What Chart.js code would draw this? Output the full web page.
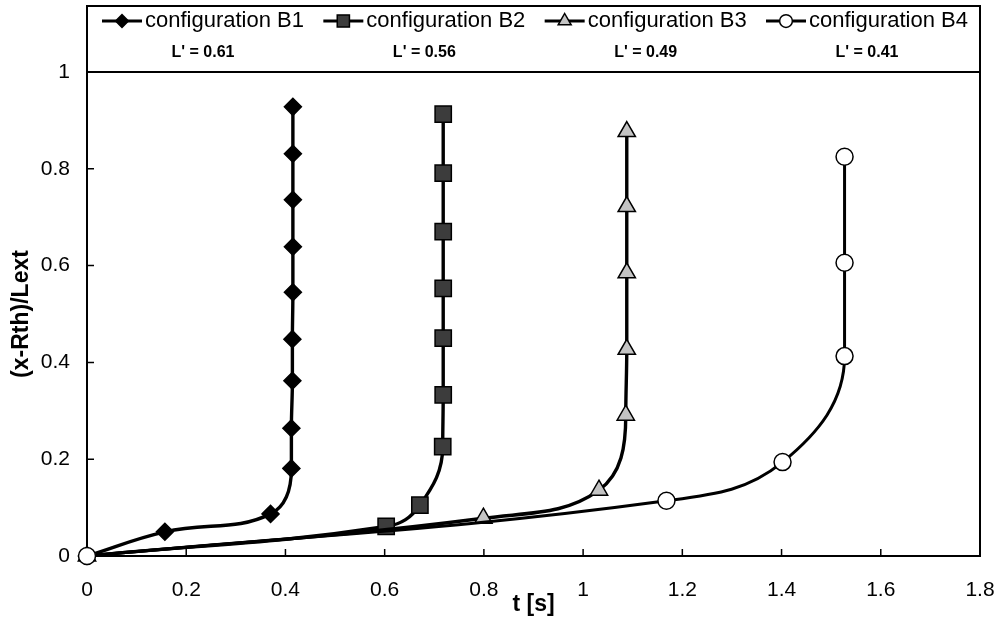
<!DOCTYPE html>
<html>
<head>
<meta charset="utf-8">
<script src="https://cdn.jsdelivr.net/npm/chart.js@4.4.1/dist/chart.umd.min.js"></script>
<style>
  html, body { margin: 0; padding: 0; background: #ffffff; }
  #wrap { width: 995px; height: 618px; }
</style>
</head>
<body>
<div id="wrap"><canvas id="c" width="995" height="618"></canvas></div>
<script>
// ---- data ----
const seriesLabels = ['configuration B1', 'configuration B2', 'configuration B3', 'configuration B4'];
const lPrime = [0.61, 0.56, 0.49, 0.41];

const tB1 = [0, 0.157, 0.370, 0.412, 0.412, 0.414, 0.414, 0.415, 0.415, 0.415, 0.415, 0.415];
const yB1 = [0, 0.050, 0.087, 0.181, 0.264, 0.362, 0.448, 0.545, 0.639, 0.736, 0.831, 0.928];

const tB2 = [0, 0.603, 0.671, 0.717, 0.718, 0.718, 0.718, 0.718, 0.718, 0.718];
const yB2 = [0, 0.061, 0.105, 0.226, 0.333, 0.450, 0.553, 0.670, 0.791, 0.913];

const tB3 = [0, 0.799, 1.032, 1.086, 1.088, 1.088, 1.088, 1.088];
const yB3 = [0, 0.078, 0.136, 0.291, 0.427, 0.585, 0.722, 0.877];

const tB4 = [0, 1.168, 1.402, 1.527, 1.527, 1.527];
const yB4 = [0, 0.114, 0.194, 0.413, 0.606, 0.825];

const xTickValues = [0, 0.2, 0.4, 0.6, 0.8, 1, 1.2, 1.4, 1.6, 1.8];
const xTickLabels = ['0', '0.2', '0.4', '0.6', '0.8', '1', '1.2', '1.4', '1.6', '1.8'];
const yTickValues = [0, 0.2, 0.4, 0.6, 0.8, 1];
const yTickLabels = ['0', '0.2', '0.4', '0.6', '0.8', '1'];

const xTitle = 't [s]';
const yTitle = '(x-Rth)/Lext';

// ---- build ----
const pts = (t, y) => t.map((v, i) => ({ x: v, y: y[i] }));
const FONT = '"Liberation Sans", Arial, Helvetica, sans-serif';

const styles = [
  { pointStyle: 'rectRot',  radius: 8.5,  bg: '#000000', lw: 3.4, hideFirst: false },
  { pointStyle: 'rect',     radius: 11.5, bg: '#3c3c3c', lw: 3.4, hideFirst: true },
  { pointStyle: 'triangle', radius: 10,   bg: '#c4c4c4', lw: 3.4, hideFirst: false },
  { pointStyle: 'circle',   radius: 8.5,  bg: '#ffffff', lw: 3,   hideFirst: false }
];
const seriesData = [pts(tB1, yB1), pts(tB2, yB2), pts(tB3, yB3), pts(tB4, yB4)];

const datasets = seriesData.map((d, i) => ({
  label: seriesLabels[i],
  data: d,
  showLine: true,
  borderColor: '#000000',
  borderWidth: styles[i].lw,
  tension: 0.4,
  pointStyle: styles[i].pointStyle,
  legendRadius: styles[i].radius,
  pointRadius: c => (styles[i].hideFirst && c.dataIndex === 0) ? 0 : styles[i].radius,
  pointHoverRadius: styles[i].radius,
  pointBackgroundColor: styles[i].bg,
  pointBorderColor: '#000000',
  pointBorderWidth: 1.5,
  order: seriesData.length - i,
  clip: false
}));

// make runs of (almost) equal t straight and vertical, like the spreadsheet's smoothing
const verticalRuns = {
  id: 'verticalRuns',
  beforeDatasetDraw(chart, args) {
    const meta = args.meta;
    if (!meta.dataset) return;
    meta.dataset.updateControlPoints(chart.chartArea, meta.iScale ? meta.iScale.axis : 'x');
    const p = meta.data;
    for (let i = 0; i < p.length; i++) {
      const nxt = p[i + 1], prv = p[i - 1];
      const vNext = nxt && Math.abs(nxt.x - p[i].x) < 2.5 && Math.abs(nxt.y - p[i].y) > 8;
      const vPrev = prv && Math.abs(prv.x - p[i].x) < 2.5 && Math.abs(prv.y - p[i].y) > 8;
      if (vNext || vPrev) {
        p[i].cp1x = p[i].x;
        p[i].cp2x = p[i].x;
      }
    }
  }
};

const frameAndTicks = {
  id: 'frameAndTicks',
  beforeDatasetsDraw(chart) {
    const { ctx, chartArea: a, scales } = chart;
    ctx.save();
    ctx.strokeStyle = '#000';
    ctx.lineWidth = 2;
    ctx.strokeRect(a.left, 6, a.right - a.left, a.bottom - 6);
    ctx.beginPath();
    ctx.moveTo(a.left, a.top);
    ctx.lineTo(a.right, a.top);
    ctx.stroke();
    ctx.lineWidth = 1.5;
    ctx.beginPath();
    scales.x.ticks.forEach(t => {
      const px = scales.x.getPixelForValue(t.value);
      ctx.moveTo(px, a.bottom);
      ctx.lineTo(px, a.bottom - 7);
    });
    scales.y.ticks.forEach(t => {
      const py = scales.y.getPixelForValue(t.value);
      ctx.moveTo(a.left, py);
      ctx.lineTo(a.left + 7, py);
    });
    ctx.stroke();
    ctx.restore();
  }
};

const boxLegend = {
  id: 'boxLegend',
  afterDraw(chart) {
    const { ctx, chartArea: a } = chart;
    const ds = chart.data.datasets;
    ctx.save();
    const labelFont = '22px ' + FONT;
    ctx.font = labelFont;
    const lineLen = 40, txtGap = 3, marginL = 15, marginR = 12;
    const widths = ds.map(d => lineLen + txtGap + ctx.measureText(d.label).width);
    const total = widths.reduce((s, w) => s + w, 0);
    const gap = (a.right - a.left - marginL - marginR - total) / (ds.length - 1);
    let x = a.left + marginL;
    const y1 = 21, y2 = 53;
    ds.forEach((d, i) => {
      ctx.strokeStyle = '#000';
      ctx.lineWidth = 3;
      ctx.beginPath();
      ctx.moveTo(x, y1);
      ctx.lineTo(x + lineLen, y1);
      ctx.stroke();
      ctx.fillStyle = d.pointBackgroundColor;
      ctx.strokeStyle = '#000';
      ctx.lineWidth = 1.5;
      Chart.helpers.drawPoint(ctx, {
        pointStyle: d.pointStyle,
        radius: d.legendRadius * 0.75,
        borderWidth: 1.5,
        rotation: 0
      }, x + lineLen / 2, y1);
      ctx.fillStyle = '#000';
      ctx.font = labelFont;
      ctx.textAlign = 'left';
      ctx.textBaseline = 'middle';
      ctx.fillText(d.label, x + lineLen + txtGap, y1);
      ctx.font = 'bold 16px ' + FONT;
      ctx.textAlign = 'center';
      ctx.fillText("L' = " + lPrime[i].toFixed(2), x + widths[i] / 2, y2);
      x += widths[i] + gap;
    });
    ctx.restore();
  }
};

new Chart(document.getElementById('c'), {
  type: 'scatter',
  data: { datasets },
  options: {
    responsive: false,
    animation: false,
    devicePixelRatio: 1,
    layout: { padding: { left: 0, right: 15, top: 72, bottom: 0 } },
    plugins: {
      legend: { display: false },
      tooltip: { enabled: false }
    },
    scales: {
      x: {
        type: 'linear',
        min: 0, max: 1.8,
        afterBuildTicks: s => { s.ticks = xTickValues.map(v => ({ value: v })); },
        afterFit: s => { s.height = 62; s.paddingRight = 0; s.paddingLeft = 0; },
        grid: { display: false, drawTicks: false },
        border: { display: false },
        ticks: {
          padding: 22,
          color: '#000',
          font: { family: FONT, size: 21 },
          maxRotation: 0,
          autoSkip: false,
          callback: (v, i) => xTickLabels[i]
        },
        title: {
          display: true,
          text: xTitle,
          color: '#000',
          font: { family: FONT, size: 23, weight: 'bold' },
          padding: { top: 0, bottom: 0 }
        }
      },
      y: {
        type: 'linear',
        min: 0, max: 1,
        afterBuildTicks: s => { s.ticks = yTickValues.map(v => ({ value: v })); },
        afterFit: s => { s.width = 87; s.paddingTop = 0; s.paddingBottom = 0; },
        grid: { display: false, drawTicks: false },
        border: { display: false },
        ticks: {
          padding: 17,
          color: '#000',
          font: { family: FONT, size: 21 },
          autoSkip: false,
          callback: (v, i) => yTickLabels[i]
        },
        title: {
          display: true,
          text: yTitle,
          color: '#000',
          font: { family: FONT, size: 23, weight: 'bold' },
          padding: { top: 8, bottom: 0 }
        }
      }
    }
  },
  plugins: [frameAndTicks, verticalRuns, boxLegend]
});
</script>
</body>
</html>
